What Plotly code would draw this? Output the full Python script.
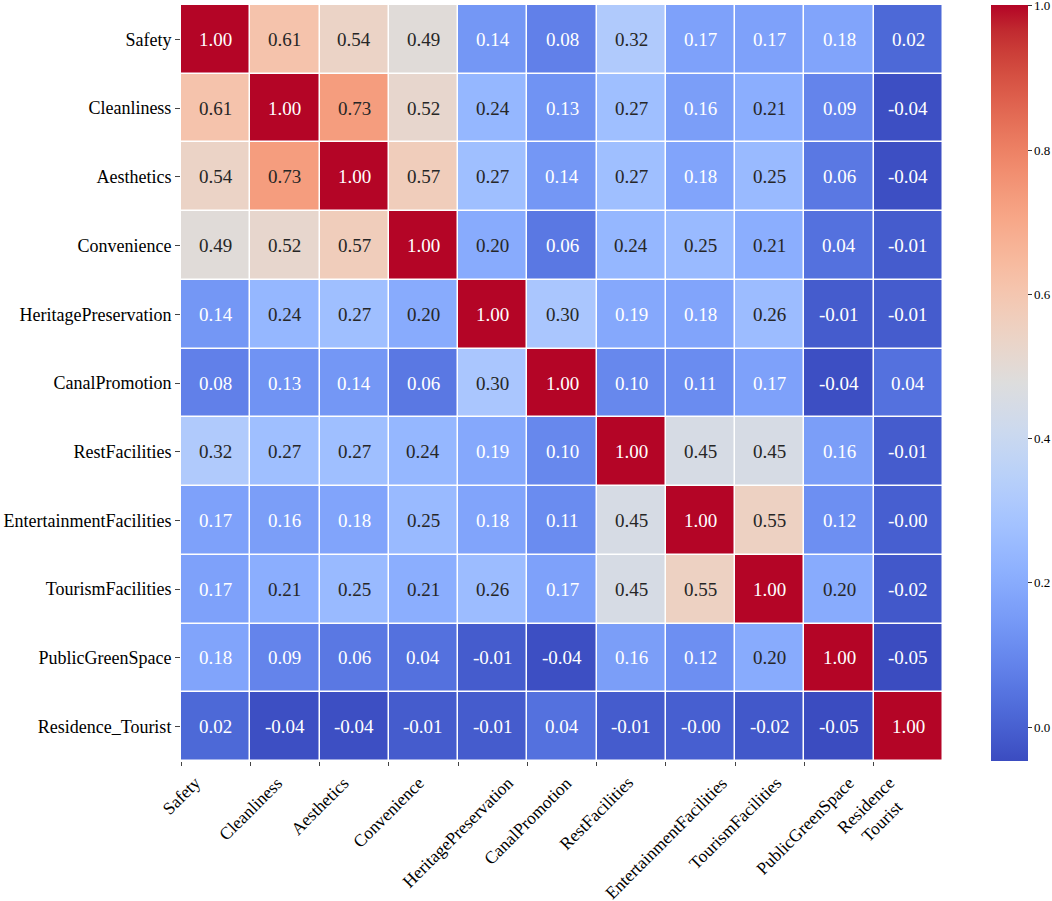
import plotly.graph_objects as go

labels = ["Safety", "Cleanliness", "Aesthetics", "Convenience", "HeritagePreservation",
          "CanalPromotion", "RestFacilities", "EntertainmentFacilities", "TourismFacilities",
          "PublicGreenSpace", "Residence_Tourist"]

safety        = [1.00, 0.61, 0.54, 0.49, 0.14, 0.08, 0.32, 0.17, 0.17, 0.18, 0.02]
cleanliness   = [0.61, 1.00, 0.73, 0.52, 0.24, 0.13, 0.27, 0.16, 0.21, 0.09, -0.04]
aesthetics    = [0.54, 0.73, 1.00, 0.57, 0.27, 0.14, 0.27, 0.18, 0.25, 0.06, -0.04]
convenience   = [0.49, 0.52, 0.57, 1.00, 0.20, 0.06, 0.24, 0.25, 0.21, 0.04, -0.01]
heritage      = [0.14, 0.24, 0.27, 0.20, 1.00, 0.30, 0.19, 0.18, 0.26, -0.01, -0.01]
canal         = [0.08, 0.13, 0.14, 0.06, 0.30, 1.00, 0.10, 0.11, 0.17, -0.04, 0.04]
rest          = [0.32, 0.27, 0.27, 0.24, 0.19, 0.10, 1.00, 0.45, 0.45, 0.16, -0.01]
entertainment = [0.17, 0.16, 0.18, 0.25, 0.18, 0.11, 0.45, 1.00, 0.55, 0.12, -0.003]
tourism       = [0.17, 0.21, 0.25, 0.21, 0.26, 0.17, 0.45, 0.55, 1.00, 0.20, -0.02]
greenspace    = [0.18, 0.09, 0.06, 0.04, -0.01, -0.04, 0.16, 0.12, 0.20, 1.00, -0.047]
residence     = [0.02, -0.04, -0.04, -0.01, -0.01, 0.04, -0.01, -0.003, -0.02, -0.047, 1.00]

matrix = [safety, cleanliness, aesthetics, convenience, heritage, canal, rest,
          entertainment, tourism, greenspace, residence]

colorbar_ticks = [0.0, 0.2, 0.4, 0.6, 0.8, 1.0]

x_ticktext = [l.replace("_", "<br>") for l in labels]

# matplotlib 'coolwarm'
cw = [(59, 76, 192), (68, 90, 204), (77, 104, 215), (87, 117, 225), (98, 130, 234),
      (108, 142, 241), (119, 154, 247), (130, 165, 251), (141, 176, 254), (152, 185, 255),
      (163, 194, 255), (174, 201, 253), (184, 208, 249), (194, 213, 244), (204, 217, 238),
      (213, 219, 230), (221, 221, 221), (229, 216, 209), (236, 211, 197), (241, 204, 185),
      (245, 196, 173), (247, 187, 160), (247, 177, 148), (247, 166, 135), (244, 154, 123),
      (241, 141, 111), (236, 127, 99), (229, 112, 88), (222, 96, 77), (213, 80, 66),
      (203, 62, 56), (192, 40, 47), (180, 4, 38)]
n = len(cw)
colorscale = [[i / (n - 1), "rgb(%d,%d,%d)" % c] for i, c in enumerate(cw)]

zmin = min(min(r) for r in matrix)
zmax = 1.001


def interp_color(v):
    t = (v - zmin) / (zmax - zmin)
    t = max(0.0, min(1.0, t))
    p = t * (n - 1)
    i = int(p)
    if i >= n - 1:
        return cw[-1]
    f = p - i
    return tuple(cw[i][k] + (cw[i + 1][k] - cw[i][k]) * f for k in range(3))


def lum(c):
    out = []
    for ch in c:
        s = ch / 255.0
        out.append(s / 12.92 if s <= 0.03928 else ((s + 0.055) / 1.055) ** 2.4)
    return 0.2126 * out[0] + 0.7152 * out[1] + 0.0722 * out[2]


xs = list(range(len(labels)))
x_edges = [j - 0.5 for j in xs]

fig = go.Figure()
fig.add_trace(go.Heatmap(
    z=matrix, x=xs, y=labels,
    colorscale=colorscale, zmin=zmin, zmax=zmax,
    xgap=1.5, ygap=1.5,
    hoverongaps=False,
    colorbar=dict(
        x=1.063, xanchor="left", xref="paper",
        y=0.5, yanchor="middle", len=1.0, lenmode="fraction",
        thickness=37, thicknessmode="pixels",
        ypad=0, xpad=0, outlinewidth=0,
        tickvals=colorbar_ticks, tickformat=".1f",
        ticks="outside", ticklen=4, tickwidth=1, tickcolor="#333",
        ticklabeloverflow="allow",
        tickfont=dict(family="Liberation Serif", size=13, color="#000"),
    ),
))

annotations = []
for i, row in enumerate(matrix):
    for j, v in enumerate(row):
        col = "#262626" if lum(interp_color(v)) > 0.408 else "#ffffff"
        annotations.append(dict(
            x=xs[j], y=labels[i], xref="x", yref="y",
            text="%.2f" % v, showarrow=False,
            font=dict(family="Liberation Serif", size=19, color=col),
        ))

# x tick labels: rotated 45°, centred on the cell-edge ticks
for j, t in enumerate(x_ticktext):
    annotations.append(dict(
        x=x_edges[j], y=0, xref="x", yref="paper",
        xanchor="center", yanchor="top", yshift=-9,
        text=t, textangle=-45, showarrow=False, align="center",
        font=dict(family="Liberation Serif", size=17.5, color="#000"),
    ))

fig.update_layout(
    width=1052, height=901,
    margin=dict(l=181, r=109, t=5, b=140, autoexpand=False),
    paper_bgcolor="white", plot_bgcolor="white",
    annotations=annotations,
    xaxis=dict(
        range=[-0.5, len(labels) - 0.5],
        tickmode="array", tickvals=x_edges, ticktext=["" for _ in x_edges],
        ticks="outside", ticklen=4, tickcolor="#444",
        showgrid=False, zeroline=False, showline=False, automargin=False,
    ),
    yaxis=dict(
        autorange="reversed", ticks="outside", ticklen=5, tickcolor="#444",
        tickfont=dict(family="Liberation Serif", size=18, color="#000"),
        showgrid=False, zeroline=False, showline=False, automargin=False,
    ),
)

fig.write_html("out.html", config={"displayModeBar": False},
               post_script="document.body.style.margin='0px';document.body.style.overflow='hidden';")
